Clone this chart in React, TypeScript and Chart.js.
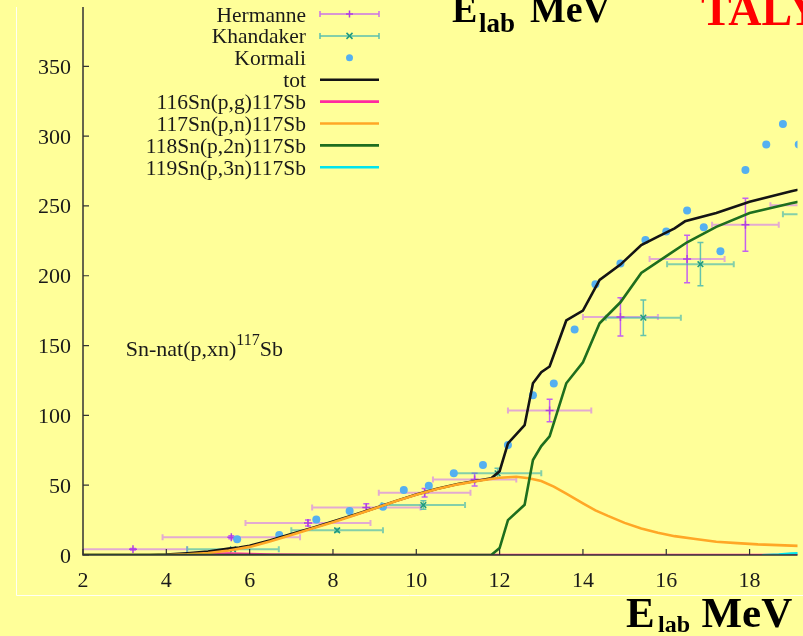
import React, { useEffect, useRef } from "react";
import { Chart, registerables } from "chart.js";

Chart.register(...registerables);

const W = 803;
const H = 636;
const X_MIN = 2;
const X_MAX = 19.15;
const Y_MIN = 0;
const Y_MAX = 392.5;

const xTicks = [2, 4, 6, 8, 10, 12, 14, 16, 18];
const yTicks = [0, 50, 100, 150, 200, 250, 300, 350];

const seriesNames = [
  "Hermanne",
  "Khandaker",
  "Kormali",
  "tot",
  "116Sn(p,g)117Sb",
  "117Sn(p,n)117Sb",
  "118Sn(p,2n)117Sb",
  "119Sn(p,3n)117Sb",
];

// Experimental data
const hermanneE = [3.2, 5.56, 7.4, 8.8, 10.2, 11.4, 13.2, 14.9, 16.5, 17.9, 19.3];
const hermanneV = [4.1, 12.7, 22.9, 34, 44.6, 54, 103.5, 170.5, 212, 236.5, 250.5];
const hermanneDE = [1.3, 1.65, 1.5, 1.3, 1.1, 1.0, 1.0, 0.9, 0.9, 0.8, 0.8];
const hermanneDV = [0.6, 1, 2.2, 2.7, 3, 4.5, 8, 13.7, 17, 19, 19];

const khandakerE = [5.6, 8.1, 10.17, 11.95, 15.45, 16.82, 19.6];
const khandakerV = [4.1, 17.7, 35.8, 58.5, 170, 208.3, 244];
const khandakerDE = [1.1, 1.1, 1.0, 1.05, 0.9, 0.8, 0.8];
const khandakerDV = [0.5, 1.2, 3, 3.6, 12.7, 15.5, 18];

const kormaliE = [5.7, 6.71, 7.6, 8.4, 9.2, 9.7, 10.3, 10.9, 11.6, 12.2, 12.8, 13.3, 13.8, 14.3, 14.9, 15.5, 16.0, 16.5, 16.9, 17.3, 17.9, 18.4, 18.8, 19.18];
const kormaliV = [11.2, 14.3, 25.5, 31.5, 34.6, 46.5, 49.6, 58.5, 64.4, 78.7, 114.5, 122.9, 161.6, 194, 208.8, 225.7, 231.7, 246.7, 234.8, 217.6, 275.8, 294, 308.7, 294];

// TALYS curves
const totE = [2, 3.6, 4.0, 4.5, 5.0, 5.5, 5.75, 6.0, 6.5, 7.0, 7.5, 8.0, 8.5, 9.0, 9.5, 10.0, 10.5, 11.0, 11.5, 11.8, 12.0, 12.2, 12.6, 12.8, 13.0, 13.2, 13.6, 14.0, 14.4, 14.9, 15.4, 15.8, 16.2, 16.45, 17.2, 18.0, 19.0, 19.5];
const totV = [0, 0, 0.4, 1.3, 2.5, 4.6, 5.3, 6.6, 10.5, 15, 19.4, 24, 28.6, 33.5, 38.6, 43.4, 47.4, 50.8, 53.4, 55, 60, 80, 93, 123, 131, 135, 168, 175, 197, 208, 222, 228, 234, 239, 245, 253, 260.5, 264];

const pgE = [2, 4.0, 4.5, 5.0, 5.5, 6.0, 6.5, 7.5, 9.0, 12.0, 19.5];
const pgV = [0, 0, 0.3, 0.8, 1.2, 0.9, 0.5, 0.2, 0.1, 0.05, 0.02];

const pnE = [2, 4.0, 4.5, 5.0, 5.5, 6.0, 6.5, 7.0, 7.5, 8.0, 8.5, 9.0, 9.5, 10.0, 10.5, 11.0, 11.5, 12.0, 12.4, 12.7, 13.0, 13.3, 13.6, 14.0, 14.3, 14.6, 15.0, 15.4, 15.8, 16.2, 16.7, 17.2, 17.7, 18.2, 19.0, 19.5];
const pnV = [0, 0, 0.5, 1.4, 3.2, 5.8, 9.8, 14.3, 19, 23.5, 28.3, 33.3, 38.5, 43.2, 47.3, 50.6, 53.2, 55.3, 56, 55, 53, 49, 44, 37, 32, 28, 23, 19, 16, 13.5, 11.5, 9.5, 8.5, 7.6, 6.7, 6.3];

const p2nE = [2, 11.8, 12.0, 12.2, 12.6, 12.8, 13.0, 13.2, 13.4, 13.6, 14.0, 14.4, 14.9, 15.4, 16.1, 16.5, 17.2, 18.0, 19.0, 19.5];
const p2nV = [0, 0, 5, 25, 36, 68, 78, 85, 104, 123, 138, 166, 181, 202, 216, 224, 235, 245, 252, 255];

const p3nE = [18.3, 18.7, 19.0, 19.5];
const p3nV = [0, 0.4, 1.1, 2];

const SERIF = '"Liberation Serif", "Times New Roman", serif';
const COL = {
  hermH: "rgba(204,102,255,0.55)",
  hermV: "rgba(190,80,250,0.9)",
  hermM: "#b040e0",
  khanH: "rgba(50,175,180,0.6)",
  khanV: "rgba(50,175,180,0.75)",
  khanM: "#1f9a80",
  korm: "#55b0f0",
  tot: "#141414",
  pg: "#ff2aa0",
  pn: "#ffa726",
  p2n: "#1e6e1e",
  p3n: "#00e5ee",
  axis: "#333333",
  text: "#1a1a1a",
};

const pts = (xs: number[], ys: number[]) => xs.map((x, i) => ({ x, y: ys[i] }));

function drawErr(
  ctx: CanvasRenderingContext2D,
  chart: any,
  xs: number[],
  ys: number[],
  dxs: number[],
  dys: number[],
  hColor: string,
  vColor: string
) {
  const sx = chart.scales.x;
  const sy = chart.scales.y;
  for (let i = 0; i < xs.length; i++) {
    const px = sx.getPixelForValue(xs[i]);
    const py = sy.getPixelForValue(ys[i]);
    const x0 = sx.getPixelForValue(xs[i] - dxs[i]);
    const x1 = sx.getPixelForValue(xs[i] + dxs[i]);
    const y0 = sy.getPixelForValue(ys[i] - dys[i]);
    const y1 = sy.getPixelForValue(ys[i] + dys[i]);
    ctx.strokeStyle = hColor;
    ctx.lineWidth = 2;
    ctx.beginPath();
    ctx.moveTo(x0, py);
    ctx.lineTo(x1, py);
    ctx.moveTo(x0, py - 3);
    ctx.lineTo(x0, py + 3);
    ctx.moveTo(x1, py - 3);
    ctx.lineTo(x1, py + 3);
    ctx.stroke();
    ctx.strokeStyle = vColor;
    ctx.lineWidth = 1.5;
    ctx.beginPath();
    ctx.moveTo(px, y0);
    ctx.lineTo(px, y1);
    ctx.moveTo(px - 3, y0);
    ctx.lineTo(px + 3, y0);
    ctx.moveTo(px - 3, y1);
    ctx.lineTo(px + 3, y1);
    ctx.stroke();
  }
}

const customPlugin = {
  id: "gnuplotLook",
  beforeDraw(chart: any) {
    const ctx = chart.ctx as CanvasRenderingContext2D;
    ctx.save();
    ctx.strokeStyle = "rgba(255,255,255,0.9)";
    ctx.lineWidth = 1;
    ctx.beginPath();
    ctx.moveTo(16.5, 7);
    ctx.lineTo(16.5, 595.5);
    ctx.lineTo(W, 595.5);
    ctx.stroke();
    ctx.restore();
  },
  beforeDatasetsDraw(chart: any) {
    const ctx = chart.ctx as CanvasRenderingContext2D;
    const a = chart.chartArea;
    ctx.save();
    ctx.beginPath();
    ctx.rect(a.left, a.top, a.right - a.left, a.bottom - a.top);
    ctx.clip();
    drawErr(ctx, chart, hermanneE, hermanneV, hermanneDE, hermanneDV, COL.hermH, COL.hermV);
    drawErr(ctx, chart, khandakerE, khandakerV, khandakerDE, khandakerDV, COL.khanH, COL.khanV);
    ctx.restore();
  },
  afterDatasetsDraw(chart: any) {
    const ctx = chart.ctx as CanvasRenderingContext2D;
    const a = chart.chartArea;
    const sx = chart.scales.x;
    const sy = chart.scales.y;
    ctx.save();
    ctx.strokeStyle = COL.axis;
    ctx.lineWidth = 1.5;
    ctx.beginPath();
    ctx.moveTo(a.left, a.top);
    ctx.lineTo(a.left, a.bottom);
    ctx.lineTo(a.right, a.bottom);
    ctx.stroke();
    ctx.lineWidth = 1.2;
    ctx.beginPath();
    yTicks.forEach((v) => {
      const py = sy.getPixelForValue(v);
      ctx.moveTo(a.left, py);
      ctx.lineTo(a.left + 6, py);
    });
    xTicks.forEach((v) => {
      const px = sx.getPixelForValue(v);
      ctx.moveTo(px, a.bottom);
      ctx.lineTo(px, a.bottom - 6);
    });
    ctx.stroke();
    ctx.fillStyle = COL.text;
    ctx.font = `22px ${SERIF}`;
    ctx.textBaseline = "alphabetic";
    ctx.textAlign = "right";
    yTicks.forEach((v) => {
      const py = sy.getPixelForValue(v);
      ctx.fillText(String(v), 71, py + 7.5);
    });
    ctx.textAlign = "center";
    xTicks.forEach((v) => {
      const px = sx.getPixelForValue(v);
      ctx.fillText(String(v), px, 587);
    });
    ctx.restore();
  },
  afterDraw(chart: any) {
    const ctx = chart.ctx as CanvasRenderingContext2D;
    ctx.save();
    // Legend
    const textX = 306;
    const l0 = 320;
    const l1 = 379;
    const lm = (l0 + l1) / 2;
    ctx.font = `21.5px ${SERIF}`;
    ctx.textAlign = "right";
    ctx.textBaseline = "alphabetic";
    seriesNames.forEach((name, i) => {
      const y = 14 + i * 21.9;
      ctx.fillStyle = COL.text;
      ctx.fillText(name, textX, y + 7.5);
      if (i === 0 || i === 1) {
        const hc = i === 0 ? "rgba(190,80,250,0.8)" : "rgba(50,175,180,0.8)";
        const mc = i === 0 ? COL.hermM : COL.khanM;
        ctx.strokeStyle = hc;
        ctx.lineWidth = 1.5;
        ctx.beginPath();
        ctx.moveTo(l0, y);
        ctx.lineTo(l1, y);
        ctx.moveTo(l0, y - 3);
        ctx.lineTo(l0, y + 3);
        ctx.moveTo(l1, y - 3);
        ctx.lineTo(l1, y + 3);
        ctx.stroke();
        ctx.strokeStyle = mc;
        ctx.beginPath();
        if (i === 0) {
          ctx.moveTo(lm, y - 3.5);
          ctx.lineTo(lm, y + 3.5);
          ctx.moveTo(lm - 3.5, y);
          ctx.lineTo(lm + 3.5, y);
        } else {
          ctx.moveTo(lm - 3, y - 3);
          ctx.lineTo(lm + 3, y + 3);
          ctx.moveTo(lm - 3, y + 3);
          ctx.lineTo(lm + 3, y - 3);
        }
        ctx.stroke();
      } else if (i === 2) {
        ctx.fillStyle = COL.korm;
        ctx.beginPath();
        ctx.arc(lm, y, 3.5, 0, Math.PI * 2);
        ctx.fill();
      } else {
        const c = [COL.tot, COL.pg, COL.pn, COL.p2n, COL.p3n][i - 3];
        ctx.strokeStyle = c;
        ctx.lineWidth = 2.6;
        ctx.beginPath();
        ctx.moveTo(l0, y);
        ctx.lineTo(l1, y);
        ctx.stroke();
      }
    });

    // Annotation
    ctx.fillStyle = COL.text;
    ctx.textAlign = "left";
    ctx.font = `22px ${SERIF}`;
    let ax = 125.7;
    const main = "Sn-nat(p,xn)";
    ctx.fillText(main, ax, 356);
    ax += ctx.measureText(main).width;
    ctx.font = `16px ${SERIF}`;
    ctx.fillText("117", ax, 345);
    ax += ctx.measureText("117").width;
    ctx.font = `22px ${SERIF}`;
    ctx.fillText("Sb", ax, 356);

    // Slide overlay titles
    ctx.fillStyle = "#000000";
    ctx.font = `bold 38px ${SERIF}`;
    ctx.fillText("E", 452, 22);
    ctx.font = `bold 27px ${SERIF}`;
    ctx.fillText("lab", 479, 31.5);
    ctx.font = `bold 38px ${SERIF}`;
    ctx.fillText("MeV", 530, 22);

    ctx.fillStyle = "#ff0000";
    ctx.font = `bold 46px ${SERIF}`;
    ctx.fillText("TALYS", 701, 25);

    ctx.fillStyle = "#000000";
    ctx.font = `bold 43px ${SERIF}`;
    ctx.fillText("E", 626, 627);
    ctx.font = `bold 24px ${SERIF}`;
    ctx.fillText("lab", 658, 632);
    ctx.font = `bold 43px ${SERIF}`;
    ctx.fillText("MeV", 701.5, 627);
    ctx.restore();
  },
};

export default function App() {
  const ref = useRef<HTMLCanvasElement | null>(null);
  useEffect(() => {
    if (!ref.current) return;
    const lineDs = (label: string, xs: number[], ys: number[], color: string, width: number, order: number) => ({
      label,
      data: pts(xs, ys),
      showLine: true,
      borderColor: color,
      backgroundColor: color,
      borderWidth: width,
      pointRadius: 0,
      tension: 0,
      order,
    });
    const chart = new Chart(ref.current, {
      type: "scatter",
      data: {
        datasets: [
          {
            label: seriesNames[0],
            data: pts(hermanneE, hermanneV),
            pointStyle: "cross",
            pointRadius: 4,
            borderColor: COL.hermM,
            backgroundColor: COL.hermM,
            borderWidth: 1.5,
            order: 8,
          },
          {
            label: seriesNames[1],
            data: pts(khandakerE, khandakerV),
            pointStyle: "crossRot",
            pointRadius: 4,
            borderColor: COL.khanM,
            backgroundColor: COL.khanM,
            borderWidth: 1.5,
            order: 7,
          },
          {
            label: seriesNames[2],
            data: pts(kormaliE, kormaliV),
            pointStyle: "circle",
            pointRadius: 4,
            borderWidth: 0,
            borderColor: COL.korm,
            backgroundColor: COL.korm,
            order: 6,
          },
          lineDs(seriesNames[3], totE, totV, COL.tot, 2.6, 5),
          lineDs(seriesNames[4], pgE, pgV, COL.pg, 2.2, 4),
          lineDs(seriesNames[5], pnE, pnV, COL.pn, 2.6, 3),
          lineDs(seriesNames[6], p2nE, p2nV, COL.p2n, 2.6, 2),
          lineDs(seriesNames[7], p3nE, p3nV, COL.p3n, 2.2, 1),
        ] as any,
      },
      options: {
        responsive: false,
        animation: false,
        layout: { padding: { left: 83, top: 7, right: 0, bottom: 81 } },
        scales: {
          x: { type: "linear", min: X_MIN, max: X_MAX, display: false },
          y: { type: "linear", min: Y_MIN, max: Y_MAX, display: false },
        },
        plugins: {
          legend: { display: false },
          tooltip: { enabled: false },
        },
      },
      plugins: [customPlugin],
    } as any);
    return () => chart.destroy();
  }, []);

  return (
    <div
      style={{
        position: "absolute",
        left: 0,
        top: 0,
        width: W,
        height: H,
        background: "#ffff99",
        overflow: "hidden",
      }}
    >
      <canvas ref={ref} width={W} height={H} style={{ display: "block", width: W, height: H }} />
    </div>
  );
}
